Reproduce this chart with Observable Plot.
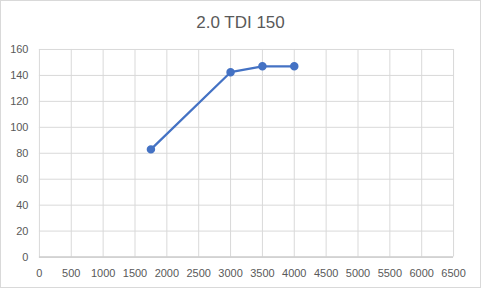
<!DOCTYPE html>
<html>
<head>
<meta charset="utf-8">
<script src="https://cdn.jsdelivr.net/npm/d3@7"></script>
<script src="https://cdn.jsdelivr.net/npm/@observablehq/plot@0.6"></script>
<style>
  html, body { margin: 0; padding: 0; background: #fff; }
  #chart { position: relative; width: 481px; height: 288px; box-sizing: border-box; border: 1px solid #d9d9d9; overflow: hidden; }
  #title { position: absolute; left: 0; top: 0; width: 479px; height: 40px; text-align: center; font-family: "Liberation Sans", "DejaVu Sans", sans-serif; font-size: 17px; color: #595959; line-height: 20px; padding-top: 12px; box-sizing: border-box; }
  #plot { position: absolute; left: -1px; top: 40px; }
</style>
</head>
<body>
<div id="chart"><div id="title">2.0 TDI 150</div><div id="plot"></div></div>
<script>
const rpm = [1750, 3000, 3500, 4000];
const power = [83, 142.5, 147, 147];
const xTicks = [0, 500, 1000, 1500, 2000, 2500, 3000, 3500, 4000, 4500, 5000, 5500, 6000, 6500];
const yTicks = [0, 20, 40, 60, 80, 100, 120, 140, 160];

const data = rpm.map((r, i) => ({rpm: r, power: power[i]}));

const chart = Plot.plot({
  width: 481,
  height: 248,
  marginTop: 8,
  marginBottom: 32,
  marginLeft: 39,
  marginRight: 27,
  style: {fontFamily: "'Liberation Sans', 'DejaVu Sans', sans-serif", fontSize: "11px", color: "#595959", background: "transparent"},
  x: {domain: [0, 6500], ticks: xTicks, tickSize: 0, tickPadding: 12, tickFormat: d => String(d), label: null},
  y: {domain: [0, 160], ticks: yTicks, tickSize: 0, tickPadding: 11, tickFormat: d => String(d), label: null},
  marks: [
    Plot.gridX(xTicks, {stroke: "#d9d9d9", strokeOpacity: 1, strokeWidth: 1}),
    Plot.gridY(yTicks, {stroke: "#d9d9d9", strokeOpacity: 1, strokeWidth: 1}),
    Plot.ruleY([0], {stroke: "#bfbfbf", strokeWidth: 1}),
    Plot.axisX({ticks: xTicks, tickSize: 0, tickPadding: 12, tickFormat: d => String(d), label: null, fill: "#595959"}),
    Plot.axisY({ticks: yTicks, tickSize: 0, tickPadding: 11, tickFormat: d => String(d), label: null, fill: "#595959"}),
    Plot.line(data, {x: "rpm", y: "power", stroke: "#4472c4", strokeWidth: 2.25}),
    Plot.dot(data, {x: "rpm", y: "power", fill: "#4472c4", stroke: "#4472c4", r: 3.5})
  ]
});
document.getElementById("plot").appendChild(chart);
</script>
</body>
</html>
